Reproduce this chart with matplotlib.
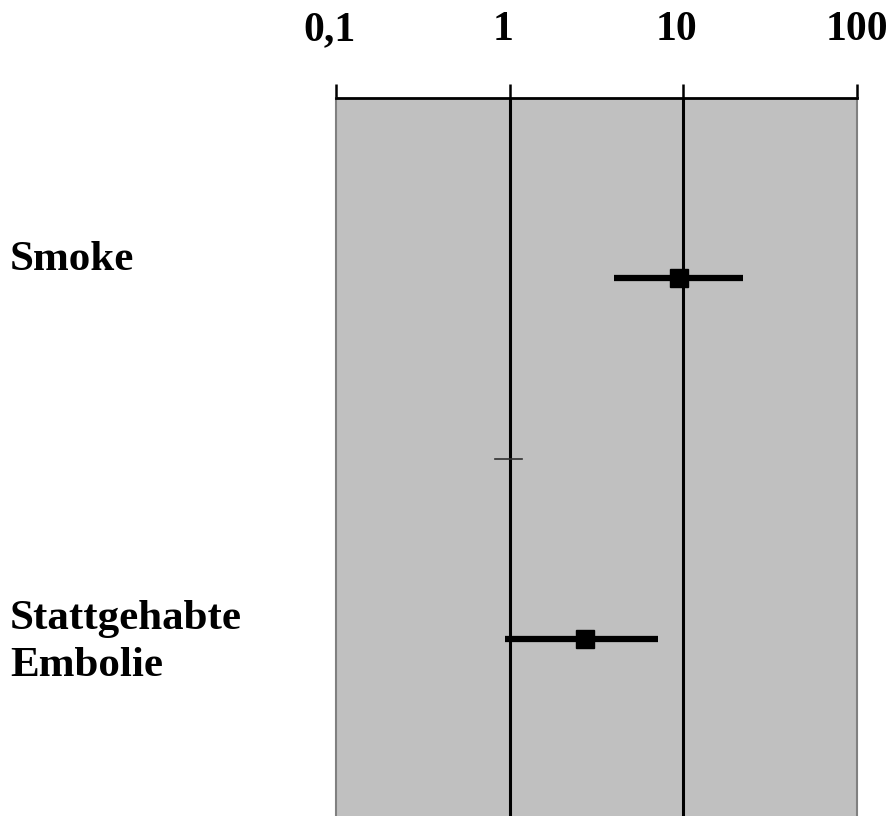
import numpy as np
import matplotlib.pyplot as plt
import matplotlib.transforms as mtransforms

# odds ratios with 95% CI (log scale)
labels = ["Smoke", "", "Stattgehabte\nEmbolie"]
rows = [1, 2, 3]
odds = [9.4, 1.0, 2.7]
ci_low = [4.0, 0.82, 0.94]
ci_high = [22.0, 1.18, 7.1]
has_box = [True, False, True]

tick_vals = [0.1, 1, 10, 100]
tick_text = ["0,1", "1", "10", "100"]

plt.rcParams['font.family'] = ['Liberation Serif', 'DejaVu Serif']

fig = plt.figure(figsize=(8.96, 8.16), dpi=100)
ax = fig.add_axes([0.375, 0.0, 0.5815, 0.8799])
ax.set_facecolor('#c0c0c0')
ax.set_xscale('log')
ax.set_xlim(0.1, 100)
ax.set_ylim(3.98, 0.0)

# reference lines
for v in [1, 10]:
    ax.axvline(v, color='black', lw=2.2, zorder=1)

for r, o, lo, hi, box in zip(rows, odds, ci_low, ci_high, has_box):
    if box:
        ax.plot([lo, hi], [r, r], color='black', lw=4.5, solid_capstyle='butt', zorder=3)
        ax.plot([o], [r], marker='s', ms=12.5, color='black', zorder=4)
    else:
        ax.plot([lo, hi], [r, r], color='#303030', lw=1.2, zorder=3)

# row labels
label_off = [-0.1, 0, 0.02]
for r, lab, off in zip(rows, labels, label_off):
    if lab:
        ax.text(-0.626, r + off, lab, transform=ax.get_yaxis_transform(),
                ha='left', va='center', fontsize=31, fontweight='bold',
                linespacing=1.3)

# axis on top
ax.xaxis.set_ticks_position('top')
ax.xaxis.set_label_position('top')
ax.set_xticks(tick_vals)
ax.set_xticklabels(tick_text, fontsize=30, fontweight='bold')
ax.xaxis.set_minor_locator(plt.NullLocator())
ax.tick_params(axis='x', direction='out', length=10, width=1.8, pad=25, color='black')
ax.set_yticks([])

# tick labels sit a little left of their ticks
shift = mtransforms.ScaledTranslation(-7 / 100, 0, fig.dpi_scale_trans)
for lab in ax.get_xticklabels()[:3]:
    lab.set_transform(lab.get_transform() + shift)

for side in ['left', 'right']:
    ax.spines[side].set_color('#808080')
    ax.spines[side].set_linewidth(1.5)
ax.spines['bottom'].set_visible(False)
ax.spines['top'].set_linewidth(2)

fig.savefig('out.png', dpi=100)
